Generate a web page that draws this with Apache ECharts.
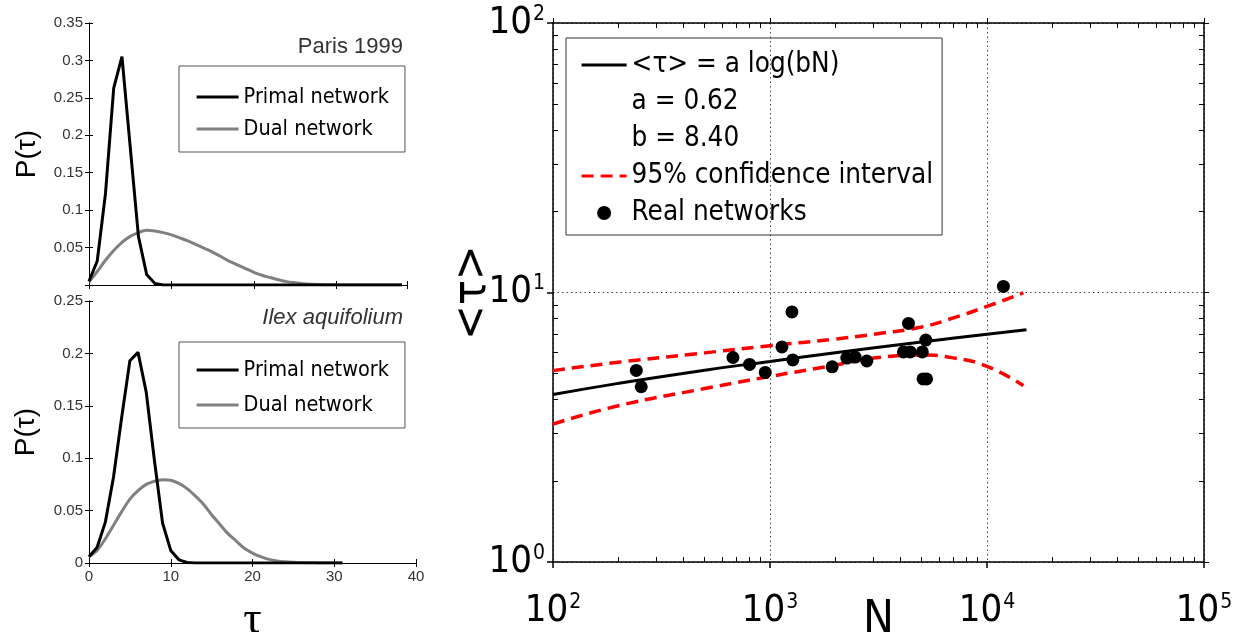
<!DOCTYPE html>
<html>
<head>
<meta charset="utf-8">
<script src="https://cdn.jsdelivr.net/npm/echarts@6/dist/echarts.min.js"></script>
<style>
  html, body { margin: 0; padding: 0; background: #fff; }
  #main { width: 1238px; height: 632px; }
</style>
</head>
<body>
<div id="main"></div>
<script>
// ---- data ----
// top-left panel (Paris 1999)
let topTau = [0,1,2,3,4,5,6,7,8,9,10,11,12,13,14,15,16,17,18,19,20,21,22,23,24,25,26,27,28,29,30,31,32,33,34,35,36,37,38];
let topPrimal = [0.005,0.032,0.122,0.263,0.305,0.185,0.065,0.014,0.002,0,0,0,0,0,0,0,0,0,0,0,0,0,0,0,0,0,0,0,0,0,0,0,0,0,0,0,0,0,0];
let topDual = [0.004,0.018,0.033,0.046,0.057,0.065,0.070,0.073,0.072,0.070,0.067,0.063,0.059,0.054,0.049,0.044,0.038,0.032,0.027,0.022,0.017,0.013,0.010,0.007,0.0045,0.003,0.0018,0.001,0.0006,0.0003,0.0002,0.0001,0,0,0,0,0,0,0];

// bottom-left panel (Ilex aquifolium)
let botTau = [0,1,2,3,4,5,6,7,8,9,10,11,12,13,14,15,16,17,18,19,20,21,22,23,24,25,26,27,28,29,30,31];
let botPrimal = [0.006,0.015,0.039,0.082,0.139,0.193,0.201,0.163,0.098,0.038,0.012,0.003,0.0005,0,0,0,0,0,0,0,0,0,0,0,0,0,0,0,0,0,0,0];
let botDual = [0.006,0.012,0.023,0.036,0.049,0.061,0.069,0.075,0.078,0.0795,0.079,0.076,0.071,0.064,0.056,0.046,0.037,0.028,0.021,0.014,0.0095,0.006,0.0035,0.002,0.0012,0.0007,0.0004,0.0002,0.0001,0,0,0];

// right panel: real networks
let netN   = [242, 255, 675, 805, 951, 1135, 1262, 1274, 1934, 2259, 2467, 2793, 4347, 4121, 4425, 5035, 5224, 5075, 5265, 11900];
let netTau = [5.14, 4.47, 5.74, 5.41, 5.05, 6.28, 8.47, 5.62, 5.30, 5.71, 5.76, 5.57, 7.68, 6.02, 6.02, 6.02, 6.66, 4.78, 4.78, 10.53];

// fitted curve <tau> = a log(bN)
let fitN   = [100, 200, 500, 1000, 2000, 5000, 10000, 15200];
let fitTau = [4.18, 4.60, 5.15, 5.55, 5.98, 6.55, 7.00, 7.28];

// 95% confidence band
let ciN     = [100, 200, 500, 1000, 2000, 3000, 5000, 7000, 10000, 14700];
let ciUpper = [5.13, 5.51, 5.97, 6.35, 6.72, 7.00, 7.45, 8.05, 8.88, 9.96];
let ciLower = [3.25, 3.80, 4.40, 4.88, 5.38, 5.71, 5.86, 5.72, 5.32, 4.51];

// log-axis minor tick positions
let xMinor = [200,300,400,500,600,700,800,900,2000,3000,4000,5000,6000,7000,8000,9000,20000,30000,40000,50000,60000,70000,80000,90000];
let yMinor = [2,3,4,5,6,7,8,9,20,30,40,50,60,70,80,90];

let fitName = "<τ> = a log(bN)";
let ciName = "95% confidence interval";

let zip = function (xs, ys) {
  return xs.map(function (x, i) { return [x, ys[i]]; });
};

let cond = '"DejaVu Sans Condensed", "DejaVu Sans", sans-serif';
let helv = '"Liberation Sans", Arial, sans-serif';

let myChart = echarts.init(document.getElementById("main"));

// shared bits for the boxed panels
let frameLine = { show: true, lineStyle: { color: "#000", width: 1 } };
let innerTick = { show: true, inside: true, length: 4, lineStyle: { color: "#000", width: 1 } };
let tickLabel = { color: "#333", fontSize: 15, fontFamily: helv, margin: 6 };
let hideDot = { opacity: 0 }; // legend: keep only the line sample

let supLabel = function (v) {
  return "{b|10}{s|" + Math.round(Math.log10(v)) + "}";
};
let supRich = {
  b: { fontSize: 38, fontFamily: cond, color: "#000" },
  s: { fontSize: 21, fontFamily: cond, color: "#000", verticalAlign: "top", padding: [0, 0, 0, 1] },
};

var option = {
  animation: false,
  backgroundColor: "#fff",
  title: [
    {
      text: "Paris 1999",
      right: 835, top: 36, padding: 0,
      textStyle: { fontSize: 22, fontWeight: "normal", color: "#333", fontFamily: helv },
    },
    {
      text: "Ilex aquifolium",
      right: 835, top: 307, padding: 0,
      textStyle: { fontSize: 22, fontWeight: "normal", fontStyle: "italic", color: "#333", fontFamily: helv },
    },
  ],
  legend: [
    {
      selectedMode: false, orient: "vertical",
      left: 179, top: 66,
      padding: [20, 16, 12, 16], itemGap: 10,
      itemWidth: 42, itemHeight: 20,
      borderColor: "#555", borderWidth: 1,
      lineStyle: { width: 3.2 },
      textStyle: { fontSize: 21.5, fontFamily: cond, color: "#000" },
      data: [
        { name: "Primal network", itemStyle: hideDot },
        { name: "Dual network", itemStyle: hideDot },
      ],
    },
    {
      selectedMode: false, orient: "vertical",
      left: 179, top: 342,
      padding: [17, 16, 12, 16], itemGap: 13,
      itemWidth: 42, itemHeight: 20,
      borderColor: "#555", borderWidth: 1,
      lineStyle: { width: 3.2 },
      textStyle: { fontSize: 21.5, fontFamily: cond, color: "#000" },
      data: [
        { name: "Primal network", itemStyle: hideDot },
        { name: "Dual network", itemStyle: hideDot },
      ],
    },
    {
      selectedMode: false, orient: "vertical",
      left: 566, top: 38,
      padding: [13, 9, 8, 14], itemGap: 9,
      itemWidth: 45, itemHeight: 14,
      borderColor: "#333", borderWidth: 1,
      lineStyle: { width: 3.2 },
      textStyle: { fontSize: 27.6, fontFamily: cond, color: "#000" },
      data: [
        { name: fitName, itemStyle: hideDot },
        { name: "a = 0.62", icon: "none" },
        { name: "b = 8.40", icon: "none" },
        { name: ciName, itemStyle: hideDot },
        { name: "Real networks", icon: "circle" },
      ],
    },
  ],
  grid: [
    { left: 89, top: 23, width: 318, height: 262, outerBoundsMode: "none" },
    { left: 89, top: 301, width: 327, height: 262, outerBoundsMode: "none" },
    { left: 553, top: 23, width: 651, height: 539, outerBoundsMode: "none" },
  ],
  xAxis: [
    // top-left
    { type: "value", gridIndex: 0, min: 0, max: 38.6, interval: 10, position: "bottom",
      axisLine: frameLine, axisTick: innerTick, axisLabel: { show: false }, splitLine: { show: false } },
    { type: "value", gridIndex: 0, min: 0, max: 38.6, interval: 10, position: "top",
      axisLine: frameLine, axisTick: innerTick, axisLabel: { show: false }, splitLine: { show: false } },
    // bottom-left
    { type: "value", gridIndex: 1, min: 0, max: 40, interval: 10, position: "bottom",
      axisLine: frameLine, axisTick: innerTick, axisLabel: tickLabel, splitLine: { show: false },
      name: "τ", nameLocation: "middle", nameGap: 35, nameMoveOverlap: false,
      nameTextStyle: { fontSize: 46, fontFamily: '"Liberation Serif", serif', color: "#000" } },
    { type: "value", gridIndex: 1, min: 0, max: 40, interval: 10, position: "top",
      axisLine: frameLine, axisTick: innerTick, axisLabel: { show: false }, splitLine: { show: false } },
    // right panel: bottom, labelled
    { type: "log", gridIndex: 2, min: 100, max: 100000, logBase: 10, position: "bottom",
      axisLine: { show: true, lineStyle: { color: "#000", width: 1.5 } },
      axisTick: { show: true, inside: false, length: 6, lineStyle: { color: "#000", width: 1.5 } },
      axisLabel: { formatter: supLabel, rich: supRich, margin: 30, showMinLabel: true, showMaxLabel: true },
      splitLine: { show: true, lineStyle: { color: "#444", width: 1, type: [1.5, 3] } },
      name: "N", nameLocation: "middle", nameGap: 36, nameMoveOverlap: false,
      nameTextStyle: { fontSize: 46, fontFamily: cond, color: "#000" } },
    { type: "log", gridIndex: 2, min: 100, max: 100000, logBase: 10, position: "bottom",
      axisLine: { show: false },
      axisTick: { show: true, inside: true, length: 5, customValues: xMinor, lineStyle: { color: "#000", width: 1 } },
      axisLabel: { show: false }, splitLine: { show: false } },
    { type: "log", gridIndex: 2, min: 100, max: 100000, logBase: 10, position: "top",
      axisLine: { show: true, lineStyle: { color: "#000", width: 1.5 } },
      axisTick: { show: true, inside: false, length: 5, lineStyle: { color: "#000", width: 1 } },
      axisLabel: { show: false }, splitLine: { show: false } },
    { type: "log", gridIndex: 2, min: 100, max: 100000, logBase: 10, position: "top",
      axisLine: { show: false },
      axisTick: { show: true, inside: true, length: 5, customValues: xMinor, lineStyle: { color: "#000", width: 1 } },
      axisLabel: { show: false }, splitLine: { show: false } },
  ],
  yAxis: [
    // top-left
    { type: "value", gridIndex: 0, min: 0, max: 0.35, interval: 0.05, position: "left",
      axisLine: frameLine, axisTick: innerTick, splitLine: { show: false },
      axisLabel: Object.assign({}, tickLabel, {
        formatter: function (v) { return v === 0 ? "" : String(+v.toFixed(2)); },
      }),
      name: "P(τ)", nameLocation: "middle", nameRotate: 90, nameGap: 48, nameMoveOverlap: false,
      nameTextStyle: { fontSize: 28, fontFamily: helv, color: "#000" } },
    { type: "value", gridIndex: 0, min: 0, max: 0.35, interval: 0.05, position: "right",
      axisLine: frameLine, axisTick: innerTick, axisLabel: { show: false }, splitLine: { show: false } },
    // bottom-left
    { type: "value", gridIndex: 1, min: 0, max: 0.25, interval: 0.05, position: "left",
      axisLine: frameLine, axisTick: innerTick, splitLine: { show: false },
      axisLabel: Object.assign({}, tickLabel, {
        formatter: function (v) { return String(+v.toFixed(2)); },
      }),
      name: "P(τ)", nameLocation: "middle", nameRotate: 90, nameGap: 49, nameMoveOverlap: false,
      nameTextStyle: { fontSize: 28, fontFamily: helv, color: "#000" } },
    { type: "value", gridIndex: 1, min: 0, max: 0.25, interval: 0.05, position: "right",
      axisLine: frameLine, axisTick: innerTick, axisLabel: { show: false }, splitLine: { show: false } },
    // right panel: left, labelled
    { type: "log", gridIndex: 2, min: 1, max: 100, logBase: 10, position: "left",
      axisLine: { show: true, lineStyle: { color: "#000", width: 1.5 } },
      axisTick: { show: true, inside: false, length: 6, lineStyle: { color: "#000", width: 1.5 } },
      axisLabel: { formatter: supLabel, rich: supRich, margin: 8, showMinLabel: true, showMaxLabel: true },
      splitLine: { show: true, lineStyle: { color: "#444", width: 1, type: [1.5, 3] } },
      name: "<τ>", nameLocation: "middle", nameRotate: 90, nameGap: 57, nameMoveOverlap: false,
      nameTextStyle: { fontSize: 46, fontFamily: cond, color: "#000" } },
    { type: "log", gridIndex: 2, min: 1, max: 100, logBase: 10, position: "left",
      axisLine: { show: false },
      axisTick: { show: true, inside: true, length: 5, customValues: yMinor, lineStyle: { color: "#000", width: 1 } },
      axisLabel: { show: false }, splitLine: { show: false } },
    { type: "log", gridIndex: 2, min: 1, max: 100, logBase: 10, position: "right",
      axisLine: { show: true, lineStyle: { color: "#000", width: 1.5 } },
      axisTick: { show: true, inside: false, length: 5, lineStyle: { color: "#000", width: 1 } },
      axisLabel: { show: false }, splitLine: { show: false } },
    { type: "log", gridIndex: 2, min: 1, max: 100, logBase: 10, position: "right",
      axisLine: { show: false },
      axisTick: { show: true, inside: true, length: 5, customValues: yMinor, lineStyle: { color: "#000", width: 1 } },
      axisLabel: { show: false }, splitLine: { show: false } },
  ],
  series: [
    // top-left
    { name: "Primal network", type: "line", xAxisIndex: 0, yAxisIndex: 0, symbol: "none",
      lineStyle: { color: "#000", width: 3 }, itemStyle: { color: "#000" }, z: 3,
      data: zip(topTau, topPrimal) },
    { name: "Dual network", type: "line", xAxisIndex: 0, yAxisIndex: 0, symbol: "none", smooth: 0.3,
      lineStyle: { color: "#808080", width: 3 }, itemStyle: { color: "#808080" }, z: 2,
      data: zip(topTau, topDual) },
    // bottom-left
    { name: "Primal network", type: "line", xAxisIndex: 2, yAxisIndex: 2, symbol: "none",
      lineStyle: { color: "#000", width: 3 }, itemStyle: { color: "#000" }, z: 3,
      data: zip(botTau, botPrimal) },
    { name: "Dual network", type: "line", xAxisIndex: 2, yAxisIndex: 2, symbol: "none", smooth: 0.3,
      lineStyle: { color: "#808080", width: 3 }, itemStyle: { color: "#808080" }, z: 2,
      data: zip(botTau, botDual) },
    // right panel
    { name: fitName, type: "line", xAxisIndex: 4, yAxisIndex: 4, symbol: "none", smooth: true,
      lineStyle: { color: "#000", width: 3 }, itemStyle: { color: "#000" }, z: 3,
      data: zip(fitN, fitTau) },
    { name: "a = 0.62", type: "line", xAxisIndex: 4, yAxisIndex: 4, data: [] },
    { name: "b = 8.40", type: "line", xAxisIndex: 4, yAxisIndex: 4, data: [] },
    { name: ciName, type: "line", xAxisIndex: 4, yAxisIndex: 4, symbol: "none", smooth: 0.5,
      lineStyle: { color: "#ff0000", width: 3.5, type: [12, 7] }, itemStyle: { color: "#ff0000" }, z: 2,
      data: zip(ciN, ciUpper) },
    { name: ciName, type: "line", xAxisIndex: 4, yAxisIndex: 4, symbol: "none", smooth: 0.5,
      lineStyle: { color: "#ff0000", width: 3.5, type: [12, 7] }, itemStyle: { color: "#ff0000" }, z: 2,
      data: zip(ciN, ciLower) },
    { name: "Real networks", type: "scatter", xAxisIndex: 4, yAxisIndex: 4, symbolSize: 13,
      itemStyle: { color: "#000", opacity: 1 }, z: 4,
      data: zip(netN, netTau) },
  ],
};

myChart.setOption(option);
</script>
</body>
</html>
